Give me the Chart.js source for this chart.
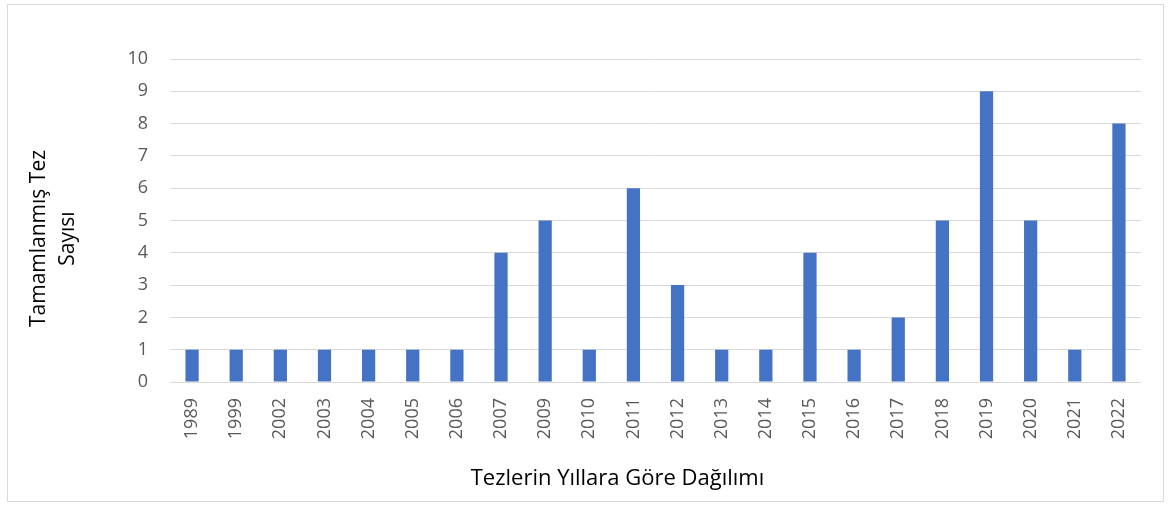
<!DOCTYPE html>
<html>
<head>
<meta charset="utf-8">
<script src="https://cdn.jsdelivr.net/npm/chart.js@4"></script>
<style>
  html, body { margin: 0; padding: 0; background: #fff; }
  #wrap { position: relative; width: 1169px; height: 505px; }
  #frame { position: absolute; left: 7px; top: 4px; width: 1155px; height: 496px; border: 1px solid #d9d9d9; pointer-events: none; }
  canvas { position: absolute; left: 0; top: 0; }
</style>
</head>
<body>
<div id="wrap">
  <canvas id="c" width="1169" height="505"></canvas>
  <div id="frame"></div>
</div>
<script>
const categories = ["1989","1999","2002","2003","2004","2005","2006","2007","2009","2010","2011","2012","2013","2014","2015","2016","2017","2018","2019","2020","2021","2022"];
const thesisCounts = [1,1,1,1,1,1,1,4,5,1,6,3,1,1,4,1,2,5,9,5,1,8];
const yTicks = [0,1,2,3,4,5,6,7,8,9,10];
const yTitle = ["Tamamlanmış Tez", "Sayısı"];
const xTitle = "Tezlerin Yıllara Göre Dağılımı";

const FONT = "'Open Sans', 'DejaVu Sans', sans-serif";

// Shift axis titles slightly (the original places them off the plot-area centre)
const titleOffsets = { x: { dx: -38, dy: 0 }, y: { dx: -2, dy: 18 } };
const titleShiftPlugin = {
  id: 'titleShift',
  afterLayout(chart) {
    for (const id of Object.keys(titleOffsets)) {
      const s = chart.scales[id];
      if (!s || s._titleShifted) continue;
      const orig = s.drawTitle.bind(s);
      const off = titleOffsets[id];
      s.drawTitle = function () {
        const ctx = this.ctx;
        ctx.save();
        ctx.translate(off.dx, off.dy);
        orig();
        ctx.restore();
      };
      s._titleShifted = true;
    }
  }
};

new Chart(document.getElementById('c'), {
  type: 'bar',
  data: {
    labels: categories,
    datasets: [{
      data: thesisCounts,
      backgroundColor: '#4472C4',
      borderWidth: 0,
      barPercentage: 0.3,
      categoryPercentage: 1.0
    }]
  },
  plugins: [titleShiftPlugin],
  options: {
    responsive: false,
    animation: false,
    devicePixelRatio: 1,
    layout: { padding: { left: 0, right: 28, top: 59, bottom: 0 } },
    plugins: { legend: { display: false }, tooltip: { enabled: false } },
    scales: {
      x: {
        grid: { display: false, drawTicks: false },
        border: { display: false },
        ticks: {
          color: '#595959',
          font: { family: FONT, size: 18 },
          minRotation: 90, maxRotation: 90,
          padding: 16,
          autoSkip: false
        },
        title: {
          display: true,
          text: xTitle,
          color: '#000',
          font: { family: FONT, size: 22 },
          padding: { top: 0, bottom: 13 }
        },
        afterFit: (s) => { s.height = 123; }
      },
      y: {
        min: 0, max: 10,
        afterBuildTicks: (s) => { s.ticks = yTicks.map(v => ({ value: v })); },
        grid: { color: '#d9d9d9', lineWidth: 1, drawTicks: false },
        border: { display: false },
        ticks: {
          color: '#595959',
          font: { family: FONT, size: 18 },
          padding: 22
        },
        title: {
          display: true,
          text: yTitle,
          color: '#000',
          font: { family: FONT, size: 21, lineHeight: 1.4 },
          padding: { top: 26, bottom: 0 }
        },
        afterFit: (s) => { s.width = 170; }
      }
    }
  }
});
</script>
</body>
</html>
